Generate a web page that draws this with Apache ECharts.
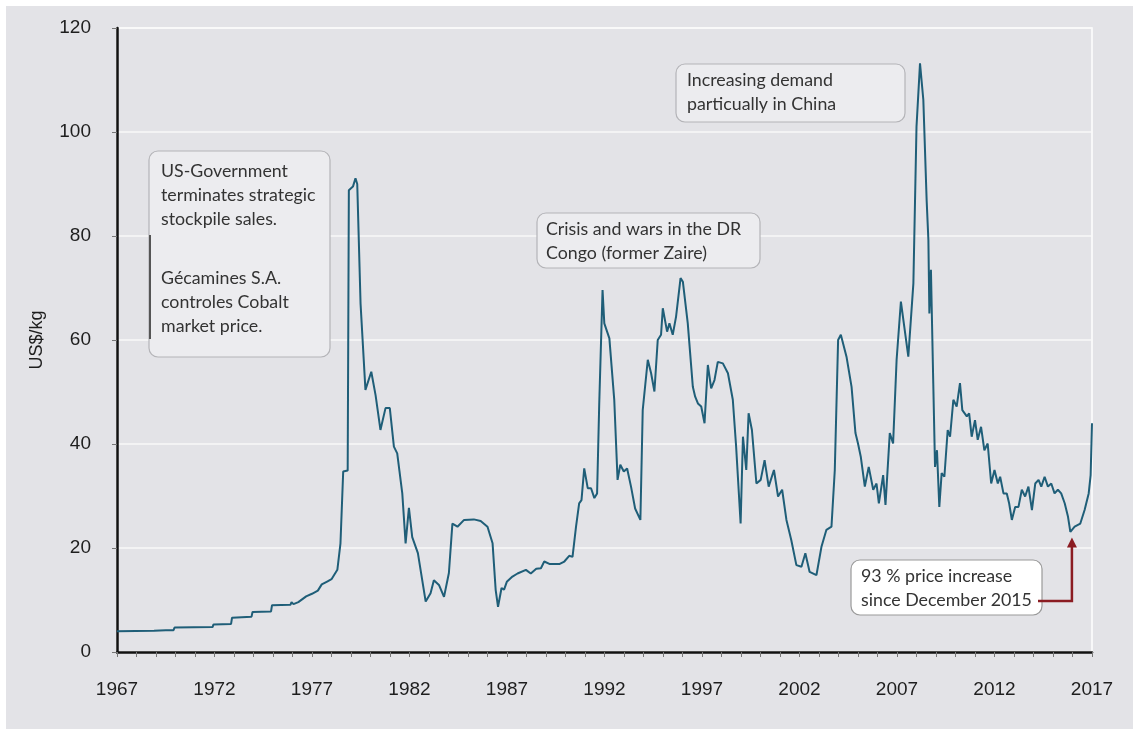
<!DOCTYPE html>
<html>
<head>
<meta charset="utf-8">
<script src="https://cdn.jsdelivr.net/npm/echarts@6/dist/echarts.min.js"></script>
<style>
html,body{margin:0;padding:0;background:#fff;}
#bg{position:absolute;left:6px;top:6px;width:1127px;height:723px;background:#e3e3e7;}
#chart{position:absolute;left:0;top:0;width:1139px;height:733px;}
</style>
</head>
<body>
<div id="bg"></div>
<div id="chart"></div>
<script>
// Cobalt price, US$/kg
const years = [
 1967.0,1968.9,1969.5,1969.9,1969.95,1971.9,1971.95,1972.85,1972.9,1973.9,1973.95,1974.9,1974.95,1975.9,1975.95,1976.05,
 1976.3,1976.7,1977.0,1977.3,1977.5,1977.8,1978.0,1978.3,1978.46,1978.6,1978.83,1978.89,1979.1,1979.23,1979.32,1979.49,
 1979.74,1980.04,1980.26,1980.51,1980.77,1980.99,1981.2,1981.37,1981.63,1981.8,1981.97,1982.14,1982.43,1982.83,1983.08,
 1983.25,1983.51,1983.77,1984.02,1984.2,1984.46,1984.8,1985.3,1985.65,1986.0,1986.26,1986.42,1986.54,1986.72,1986.85,
 1986.99,1987.28,1987.54,1987.97,1988.22,1988.5,1988.74,1988.91,1989.2,1989.68,1989.94,1990.19,1990.36,1990.54,1990.7,
 1990.82,1990.96,1991.14,1991.31,1991.48,1991.62,1991.73,1991.9,1991.99,1992.25,1992.5,1992.67,1992.81,1992.99,1993.16,
 1993.36,1993.57,1993.84,1993.96,1994.22,1994.39,1994.56,1994.73,1994.9,1994.99,1995.21,1995.33,1995.5,1995.67,1995.9,
 1996.02,1996.27,1996.53,1996.65,1996.79,1996.96,1997.13,1997.3,1997.47,1997.64,1997.81,1998.07,1998.33,1998.58,1998.75,
 1998.98,1999.1,1999.27,1999.39,1999.56,1999.79,2000.01,2000.21,2000.42,2000.69,2000.9,2001.11,2001.33,2001.58,2001.84,
 2002.1,2002.3,2002.52,2002.87,2003.13,2003.38,2003.64,2003.81,2003.98,2004.12,2004.41,2004.67,2004.87,2005.0,2005.14,
 2005.35,2005.55,2005.78,2005.95,2006.07,2006.29,2006.41,2006.63,2006.8,2006.98,2007.2,2007.58,2007.84,2008.0,2008.18,
 2008.35,2008.52,2008.61,2008.66,2008.74,2008.86,2008.95,2009.05,2009.17,2009.29,2009.43,2009.6,2009.72,2009.89,2010.06,
 2010.23,2010.35,2010.58,2010.7,2010.83,2011.0,2011.14,2011.31,2011.48,2011.65,2011.83,2012.0,2012.17,2012.29,2012.46,
 2012.63,2012.75,2012.89,2013.06,2013.23,2013.4,2013.57,2013.74,2013.92,2014.09,2014.26,2014.4,2014.57,2014.74,2014.91,
 2015.08,2015.25,2015.42,2015.6,2015.77,2015.89,2016.11,2016.4,2016.62,2016.83,2016.93,2017.0
];
const prices = [
 4.0,4.1,4.2,4.2,4.7,4.8,5.3,5.4,6.6,6.8,7.7,7.8,9.0,9.1,9.6,9.2,
 9.6,10.7,11.2,11.8,13.0,13.6,14.0,15.8,20.9,34.7,34.9,88.8,89.5,91.1,90.0,67.0,
 50.4,53.9,49.4,42.7,46.9,46.9,39.5,38.2,30.5,20.9,27.7,22.1,19.0,9.7,11.3,
 13.8,12.9,10.6,15.2,24.7,24.1,25.4,25.5,25.2,24.1,20.9,11.9,8.7,12.3,12.0,
 13.5,14.5,15.1,15.8,15.1,16.0,16.1,17.4,16.9,16.9,17.4,18.5,18.3,24.1,28.6,
 29.2,35.3,31.5,31.5,29.6,30.5,47.8,69.6,63.2,60.3,48.5,33.1,36.0,34.7,35.3,
 31.8,27.6,25.4,46.5,56.2,53.6,50.1,60.0,61.0,66.1,61.6,63.2,61.0,64.5,71.9,
 71.2,63.2,51.0,49.1,47.8,47.2,44.0,55.2,50.7,52.3,55.8,55.5,53.6,48.5,39.5,
 24.7,41.4,35.0,45.9,42.7,32.4,33.1,36.9,31.8,35.0,29.9,31.2,25.4,21.5,16.7,
 16.4,19.0,15.4,14.8,20.3,23.5,24.1,35.0,60.0,61.0,56.8,51.0,42.1,40.1,37.6,
 31.8,35.6,31.2,32.4,28.6,34.0,28.3,42.1,40.1,56.2,67.4,56.8,70.9,101.0,113.2,
 106.2,86.9,79.2,65.1,73.5,51.7,35.6,38.8,27.9,34.4,33.7,42.7,41.4,48.5,47.2,
 51.7,46.5,45.3,45.9,41.4,44.6,40.8,43.3,38.8,40.1,32.4,35.0,32.4,33.7,30.5,
 30.5,28.6,25.4,27.9,27.9,31.2,29.9,31.8,27.3,32.4,33.1,31.8,33.7,31.8,32.4,
 30.5,31.2,30.5,28.6,26.0,23.1,24.1,24.7,27.3,30.5,34.0,44.0
];
const xTicks = {min: 1967, max: 2017, step: 5};
const yTicks = {min: 0, max: 120, step: 20};
const yName = 'US$/kg';
const notes = {
  us: 'US-Government\nterminates strategic\nstockpile sales.',
  gec: 'Gécamines S.A.\ncontroles Cobalt\nmarket price.',
  congo: 'Crisis and wars in the DR\nCongo (former Zaire)',
  china: 'Increasing demand\nparticually in China',
  dec: '93 % price increase\nsince December 2015'
};
const arrowTarget = [2015.97, 22];

const data = years.map((y, i) => [y, prices[i]]);
const chart = echarts.init(document.getElementById('chart'), null, {renderer: 'canvas'});
const axisFont = {fontFamily: '"Liberation Sans", Arial, sans-serif', fontSize: 19, color: '#1e1e1e'};
const noteFont = '17.8px Lato, "Noto Sans", sans-serif';
const noteColor = '#333333';

chart.setOption({
  backgroundColor: 'transparent',
  animation: false,
  grid: {left: 117, right: 47, top: 28, bottom: 81, show: true, borderColor: '#ffffff', borderWidth: 1.5, backgroundColor: 'transparent'},
  xAxis: {
    type: 'value', min: xTicks.min, max: xTicks.max, interval: xTicks.step,
    axisLine: {lineStyle: {color: '#111', width: 2.5}},
    axisTick: {show: true, length: 5, lineStyle: {color: '#777', width: 1}},
    minorTick: {show: true, splitNumber: 5, length: 5, lineStyle: {color: '#777', width: 1}},
    splitLine: {show: false},
    axisLabel: Object.assign({margin: 28, formatter: v => String(Math.round(v))}, axisFont)
  },
  yAxis: {
    type: 'value', min: yTicks.min, max: yTicks.max, interval: yTicks.step,
    name: yName, nameLocation: 'middle', nameRotate: 90, nameGap: 71,
    nameTextStyle: {fontFamily: '"Liberation Sans", Arial, sans-serif', fontSize: 18, color: '#1e1e1e'},
    axisLine: {show: true, lineStyle: {color: '#111', width: 2.5}},
    axisTick: {show: true, length: 5, lineStyle: {color: '#777', width: 1}},
    splitLine: {show: true, lineStyle: {color: '#f8f8f8', width: 1.5}},
    axisLabel: Object.assign({margin: 26}, axisFont)
  },
  series: [{
    type: 'line', data: data, showSymbol: false, symbol: 'none',
    lineStyle: {color: '#1f5e78', width: 2}, z: 3
  }]
});

const tip = chart.convertToPixel({gridIndex: 0}, arrowTarget);
const boxStyle = {fill: '#ececef', stroke: '#b4b4b8', lineWidth: 1.2};
const txt = (x, y, t) => ({type: 'text', x: x, y: y, style: {text: t, font: noteFont, fill: noteColor, lineHeight: 24, verticalAlign: 'top'}, z: 12});
chart.setOption({
  graphic: [
    {type: 'rect', shape: {x: 149, y: 151, width: 181, height: 206, r: 9}, style: boxStyle, z: 10},
    {type: 'line', shape: {x1: 150, y1: 235, x2: 150, y2: 339}, style: {stroke: '#555', lineWidth: 2}, z: 11},
    txt(161, 159, notes.us),
    txt(161, 266, notes.gec),
    {type: 'rect', shape: {x: 537, y: 213, width: 223, height: 55, r: 9}, style: boxStyle, z: 10},
    txt(546, 217, notes.congo),
    {type: 'rect', shape: {x: 676, y: 64, width: 229, height: 58, r: 9}, style: boxStyle, z: 10},
    txt(687, 68, notes.china),
    {type: 'rect', shape: {x: 851, y: 560, width: 191, height: 55, r: 9}, style: {fill: '#ffffff', stroke: '#9a9a9a', lineWidth: 1.2}, z: 10},
    txt(861, 564, notes.dec),
    {type: 'polyline', shape: {points: [[1038, 601], [tip[0], 601], [tip[0], tip[1] + 9]]}, style: {stroke: '#8b1c22', lineWidth: 2.5, fill: null}, z: 12},
    {type: 'polygon', shape: {points: [[tip[0], tip[1]], [tip[0] - 5, tip[1] + 10], [tip[0] + 5, tip[1] + 10]]}, style: {fill: '#8b1c22'}, z: 12}
  ]
});
</script>
</body>
</html>
